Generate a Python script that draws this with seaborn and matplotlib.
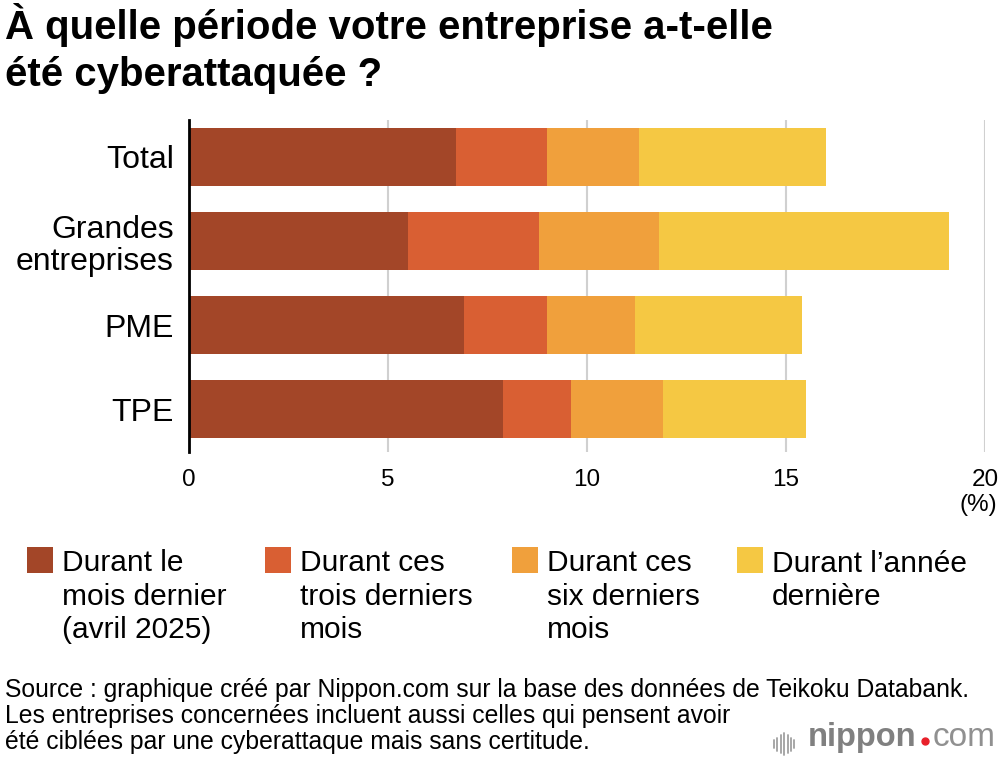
import matplotlib
matplotlib.use("Agg")
import matplotlib.pyplot as plt
import seaborn as sns
import pandas as pd
import numpy as np
from matplotlib.patches import Rectangle
from matplotlib.lines import Line2D

# ---- data ----
categories = ["Total", "Grandes\nentreprises", "PME", "TPE"]
series_names = ["Durant le\nmois dernier\n(avril 2025)",
                "Durant ces\ntrois derniers\nmois",
                "Durant ces\nsix derniers\nmois",
                "Durant l’année\ndernière"]
last_month = [6.7, 5.5, 6.9, 7.9]
three_months = [2.3, 3.3, 2.1, 1.7]
six_months = [2.3, 3.0, 2.2, 2.3]
last_year = [4.7, 7.3, 4.2, 3.6]
x_ticks = [0, 5, 10, 15, 20]
footer_lines = [
    "Source : graphique créé par Nippon.com sur la base des données de Teikoku Databank.",
    "Les entreprises concernées incluent aussi celles qui pensent avoir",
    "été ciblées par une cyberattaque mais sans certitude.",
]
colors = ["#A34628", "#D95F33", "#F0A03C", "#F5C843"]

sns.set_theme(style="white")
plt.rcParams['font.family'] = ['Liberation Sans', 'DejaVu Sans']
plt.rcParams['text.color'] = 'black'
plt.rcParams['xtick.labelcolor'] = 'black'
plt.rcParams['ytick.labelcolor'] = 'black'

H = 764.0
def fy(px):
    return 1 - px / H

fig = plt.figure(figsize=(10, 7.64), dpi=100)
ax = fig.add_axes([0.189, fy(452), 0.985 - 0.189, (452 - 120) / H])

series = [last_month, three_months, six_months, last_year]
cum = np.cumsum(np.array(series), axis=0)
df = pd.DataFrame({"cat": categories})
for i in range(len(series) - 1, -1, -1):
    df["v"] = cum[i]
    sns.barplot(data=df, x="v", y="cat", orient="h", color=colors[i],
                saturation=1, width=0.69, linewidth=0, ax=ax, zorder=3)

ax.set_xlim(0, 20)
ax.set_ylim(3.51, -0.44)
ax.set_xticks(x_ticks)
ax.set_xticklabels([str(t) for t in x_ticks], fontsize=17.5)
ax.tick_params(axis="x", length=0, pad=12)
ax.tick_params(axis="y", length=0, pad=11, labelsize=23)
for lab in ax.get_yticklabels():
    lab.set_linespacing(1.12)
ax.set_xlabel("")
ax.set_ylabel("")
ax.grid(axis="x", color="#d0d0d0", linewidth=1.5, zorder=0)
for s in ["top", "right", "bottom"]:
    ax.spines[s].set_visible(False)
ax.spines["left"].set_color("black")
ax.spines["left"].set_linewidth(2)
ax.spines["left"].set_zorder(5)

fig.text(0.997, fy(511), "(%)", ha="right", va="baseline", fontsize=17.5)

# title
fig.text(0.005, fy(39), "À quelle période votre entreprise a-t-elle",
         ha="left", va="baseline", fontsize=28.9, fontweight="bold")
fig.text(0.005, fy(86), "été cyberattaquée ?",
         ha="left", va="baseline", fontsize=28.9, fontweight="bold")

# legend (manual); va='baseline' aligns the last line
leg_x = [27, 265, 512, 737]
for i in range(4):
    fig.patches.append(Rectangle((leg_x[i] / 1000, fy(573)), 26 / 1000, 26 / H,
                                 transform=fig.transFigure, color=colors[i], lw=0))
    nlines = series_names[i].count("\n")
    fig.text((leg_x[i] + 35) / 1000, fy(572 + 33 * nlines), series_names[i],
             ha="left", va="baseline", fontsize=21.5, linespacing=1.24)

# footer
for k, line in enumerate(footer_lines):
    fig.text(0.005, fy(697 + 26 * k), line, ha="left", va="baseline", fontsize=17.8)

# logo
fig.canvas.draw()
r = fig.canvas.get_renderer()
y_logo = fy(746)
t1 = fig.text(808 / 1000, y_logo, "nippon", ha="left", va="baseline", fontsize=23.5,
              fontweight="bold", color="#808080")
bb = t1.get_window_extent(renderer=r)
xd = bb.x1 / 1000 + 0.008
fig.add_artist(Line2D([xd], [fy(741)], transform=fig.transFigure, marker="o",
                      markersize=5, color="#e8202a", lw=0))
fig.text(xd + 0.008, y_logo, "com", ha="left", va="baseline", fontsize=24,
         color="#909090")
hs = [8, 13, 18, 22, 18, 13, 8]
for k, h in enumerate(hs):
    xx = (774 + k * 3.4) / 1000
    yc = fy(744)
    fig.add_artist(Line2D([xx, xx], [yc - h / 2 / H, yc + h / 2 / H],
                          transform=fig.transFigure, color="#a0a0a0", lw=1.3))

fig.savefig("out.png", dpi=100)
